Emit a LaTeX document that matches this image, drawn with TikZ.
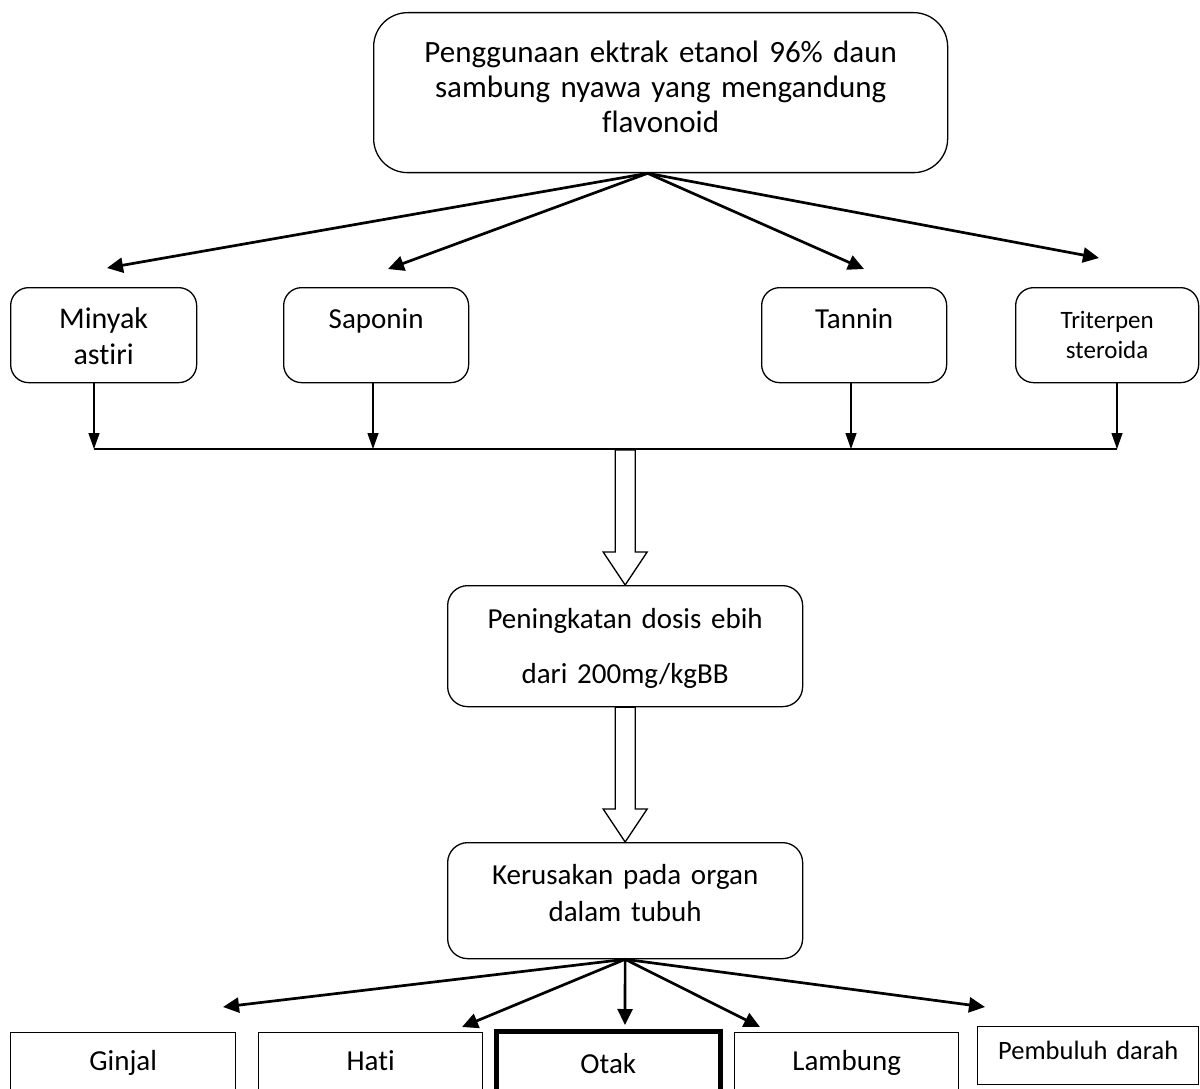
\documentclass[tikz,border=0pt]{standalone}
\usepackage{fontspec}
\setmainfont{Carlito}[RawFeature=-liga]
\usepackage{tikz}
\usetikzlibrary{arrows.meta}
\usetikzlibrary{positioning}
\usetikzlibrary{calc}
\tikzset{
    flowbox/.style={draw=black, line width=1.3pt, rounded corners=18pt, anchor=north west,
        align=center, inner sep=0pt, font=\fontsize{29}{36}\selectfont},
    organbox/.style={draw=black, line width=1.4pt, anchor=north west,
        align=center, inner sep=0pt, font=\fontsize{29}{36}\selectfont},
    branch/.style={draw=black, line width=2.7pt, -{Triangle[length=16pt,width=15pt]}},
    drop/.style={draw=black, line width=1.3pt, -{Triangle[length=16pt,width=11pt]}},
    hollow/.style={draw=black, line width=1.3pt, fill=white, line join=miter},
}

\begin{document}
\begin{tikzpicture}[x=1pt, y=-1pt]
	\clip (0,0) rectangle (1200,1089);
	\node[flowbox, rounded corners=34pt, text width=574pt, text height=50pt, text depth=110pt,
		font=\fontsize{31}{35}\selectfont] (flav) at (373,12)
		{Penggunaan ektrak etanol 96\% daun\\sambung nyawa yang mengandung\\flavonoid};
	\node[flowbox, text width=186pt, text height=41pt, text depth=54pt,
		font=\fontsize{30}{36}\selectfont] (minyak) at (10,287) {Minyak\\astiri};
	\node[flowbox, text width=185pt, text height=41pt, text depth=54pt] (saponin) at (283,287) {Saponin};
	\node[flowbox, text width=185pt, text height=41pt, text depth=54pt] (tannin) at (761,287) {Tannin};
	\node[flowbox, text width=183pt, text height=41pt, text depth=54pt,
		font=\fontsize{25}{30}\selectfont] (triter) at (1015,287) {Triterpen\\steroida};
	\node[flowbox, rounded corners=20pt, text width=355pt, text height=43pt, text depth=78pt,
		font=\fontsize{29}{55}\selectfont] (pening) at (447,585) {Peningkatan dosis ebih\\dari 200mg/kgBB};
	\node[flowbox, rounded corners=20pt, text width=355pt, text height=42pt, text depth=74pt,
		font=\fontsize{29}{37}\selectfont] (kerus) at (447,842) {Kerusakan pada organ\\dalam tubuh};
	\node[organbox, text width=225pt, text height=38pt, text depth=60pt] (ginjal) at (10,1032) {Ginjal};
	\node[organbox, text width=224pt, text height=38pt, text depth=60pt] (hati) at (258,1032) {Hati};
	\node[organbox, line width=4.5pt, text width=224pt, text height=42pt, text depth=60pt] (otak) at (494,1029) {Otak};
	\node[organbox, text width=224pt, text height=38pt, text depth=60pt] (lambung) at (734,1032) {Lambung};
	\node[organbox, text width=221pt, text height=33pt, text depth=25pt,
		font=\fontsize{26.5}{32}\selectfont] (pembuluh) at (977,1026) {Pembuluh darah};

	\coordinate (fork) at ([xshift=-13pt]flav.south);
	\coordinate (t1) at (107,268);
	\coordinate (t2) at (388,269);
	\coordinate (t3) at (864,269);
	\coordinate (t4) at (1099,258);
	\draw[branch] (fork) -- (t1);
	\draw[branch] (fork) -- (t2);
	\draw[branch] (fork) -- (t3);
	\draw[branch] (fork) -- (t4);

	\coordinate (j1) at (94,449);
	\coordinate (j2) at (373,449);
	\coordinate (j3) at (851,449);
	\coordinate (j4) at (1117,449);
	\draw[drop] (minyak.south -| j1) -- (j1);
	\draw[drop] (saponin.south -| j2) -- (j2);
	\draw[drop] (tannin.south -| j3) -- (j3);
	\draw[drop] (triter.south -| j4) -- (j4);
	\draw[line width=1.3pt] (j1) -- (j4);

	\draw[hollow] ($(pening.north |- j1)+(-10,1)$) -- ($(pening.north)+(-10,-33)$) -- ($(pening.north)+(-22,-33)$)
		-- (pening.north) -- ($(pening.north)+(22,-33)$) -- ($(pening.north)+(10,-33)$) -- ($(pening.north |- j1)+(10,1)$) -- cycle;
	\draw[hollow] ($(pening.south)+(-10,0)$) -- ($(kerus.north)+(-10,-33)$) -- ($(kerus.north)+(-22,-33)$)
		-- (kerus.north) -- ($(kerus.north)+(22,-33)$) -- ($(kerus.north)+(10,-33)$) -- ($(pening.south)+(10,0)$) -- cycle;

	\coordinate (b1) at (223,1007);
	\coordinate (b2) at (462,1027);
	\coordinate (b3) at (625,1025);
	\coordinate (b4) at (760,1027);
	\coordinate (b5) at (985,1007);
	\draw[branch] (kerus.south) -- (b1);
	\draw[branch] (kerus.south) -- (b2);
	\draw[branch] (kerus.south) -- (b3);
	\draw[branch] (kerus.south) -- (b4);
	\draw[branch] (kerus.south) -- (b5);
\end{tikzpicture}
\end{document}
